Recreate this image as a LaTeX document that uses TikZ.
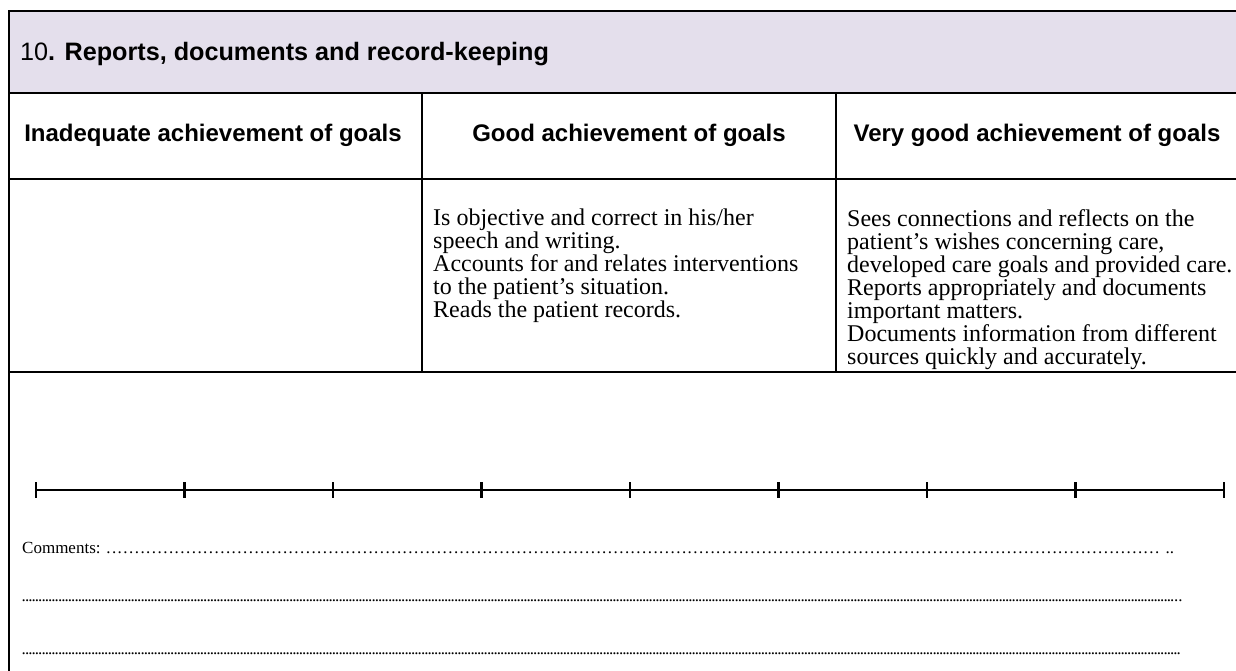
\documentclass[tikz,border=0pt]{standalone}
\usepackage{fontspec}
\usetikzlibrary{calc}
\setmainfont{Liberation Serif}
\newfontfamily\hdrfont{Liberation Sans}
\definecolor{hdrfill}{RGB}{228,223,236}
\tikzset{
  tbl/.style={line width=2pt, line cap=rect},
  headtext/.style={font=\hdrfont\fontsize{24}{28}\selectfont\bfseries, inner sep=0pt},
  bodytext/.style={font=\fontsize{24}{23}\selectfont, inner sep=0pt, align=left, anchor=north west},
  rulerline/.style={line width=1.8pt},
  tickline/.style={line width=2.4pt},
  dotline/.style={font=\fontsize{17}{20}\selectfont, inner sep=0pt, anchor=base west}
}
\newcommand{\dotsrow}[2]{\hbox to #1{\leaders\hbox to #2{\hss.\hss}\hfill}}
\begin{document}
\begin{tikzpicture}[x=1pt,y=-1pt]
\useasboundingbox (0,0) rectangle (1236,671);
% header background
\fill[hdrfill] (9,11) rectangle (1240,93);
% table lines
\draw[tbl] (1240,11) -- (9,11) -- (9,675);
\draw[tbl] (9,93) -- (1240,93);
\draw[tbl] (9,179) -- (1240,179);
\draw[tbl] (9,372) -- (1240,372);
\draw[tbl] (422,93) -- (422,372);
\draw[tbl] (836,93) -- (836,372);
% title
\node[headtext, anchor=west, font=\hdrfont\fontsize{25.2}{28}\selectfont] (title) at (20,54) {10\textbf{. Reports, documents and record-keeping}};
% column headers
\node[headtext] (h1) at (213,135) {Inadequate achievement of goals};
\node[headtext] (h2) at (629,135) {Good achievement of goals};
\node[headtext] (h3) at (1037,135) {Very good achievement of goals};
% content
\node[bodytext] (c2) at (433,209) {Is objective and correct in his/her\\speech and writing.\\Accounts for and relates interventions\\to the patient’s situation.\\Reads the patient records.};
\node[bodytext] (c3) at (847,209) {Sees connections and reflects on the\\patient’s wishes concerning care,\\developed care goals and provided care.\\Reports appropriately and documents\\important matters.\\Documents information from different\\sources quickly and accurately.};
% ruler
\foreach \i in {0,...,8} {
  \coordinate (t\i) at ({36+148.5*\i},490);
  \draw[tickline] ($(t\i)+(0,-8)$) -- ($(t\i)+(0,8)$);
}
\draw[rulerline] (t0) -- (t8);
% comments
\node[dotline] (com1) at (22,553) {Comments:\hspace{5pt}\dotsrow{1060pt}{5.7pt}..};
\node[dotline] (com2) at (22,601) {\dotsrow{1152pt}{3.3pt}..};
\node[dotline] (com3) at (22,654) {\dotsrow{1161pt}{3.3pt}};
\end{tikzpicture}
\end{document}
